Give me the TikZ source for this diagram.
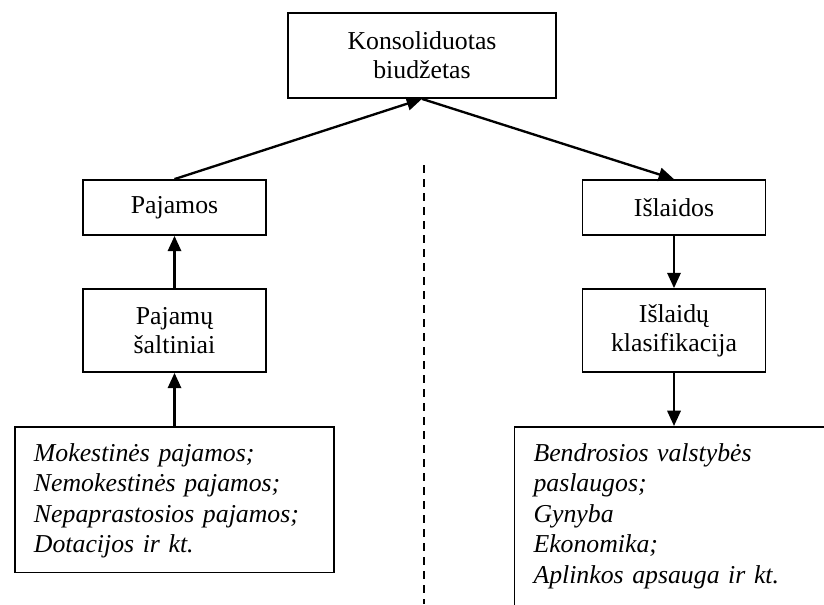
\documentclass[tikz,border=0pt]{standalone}
\usepackage{fontspec}
\setmainfont{Liberation Serif}
\usetikzlibrary{arrows.meta}

\begin{document}
\begin{tikzpicture}[x=0.03cm,y=-0.03cm,
		box/.style={draw, line width=1.5pt, align=center, inner sep=0pt, font=\fontsize{22}{25}\selectfont},
		listbox/.style={draw, line width=1.5pt, align=left, anchor=north, text width=8.43cm, inner xsep=0.57cm, inner ysep=0.5cm, font=\fontsize{22}{26}\selectfont\itshape},
		arr/.style={line width=2pt, -{Triangle[length=0.46cm,width=0.4cm]}}]
		\clip (0,0) rectangle (824,604);

		\node[box, minimum width=8.04cm, minimum height=2.55cm] (konsol) at (422,55.5) {Konsoliduotas\\biudžetas};

		\node[box, minimum width=5.49cm, minimum height=1.65cm] (pajamos) at (174.5,207.5) {Pajamos};
		\node[box, minimum width=5.49cm, minimum height=1.65cm] (islaidos) at (674,207.5) {Išlaidos};

		\node[box, minimum width=5.49cm, minimum height=2.49cm] (pajsalt) at (174.5,330.5) {Pajamų\\šaltiniai};
		\node[box, minimum width=5.49cm, minimum height=2.49cm] (islklas) at (674,330.5) {Išlaidų\\klasifikacija};

		\node[listbox, text depth=2.83cm] (pajlist) at (174.5,426) {Mokestinės pajamos;\\Nemokestinės pajamos;\\Nepaprastosios pajamos;\\Dotacijos ir kt.};
		\node[listbox, text depth=5cm] (islist) at (674,426) {Bendrosios valstybės\\paslaugos;\\Gynyba\\Ekonomika;\\Aplinkos apsauga ir kt.};

		\draw[arr] (pajamos.north) -- (konsol.south);
		\draw[arr] (konsol.south) -- (islaidos.north);
		\draw[arr] (pajsalt.north) -- (pajamos.south);
		\draw[arr] (pajlist.north) -- (pajsalt.south);
		\draw[arr] (islaidos.south) -- (islklas.north);
		\draw[arr] (islklas.south) -- (islist.north);

		\coordinate (dtop) at (424,165);
		\coordinate (dbot) at (424,604);
		\draw[line width=1.6pt, dash pattern=on 0.24cm off 0.18cm] (dtop) -- (dbot);
	\end{tikzpicture}
\end{document}
